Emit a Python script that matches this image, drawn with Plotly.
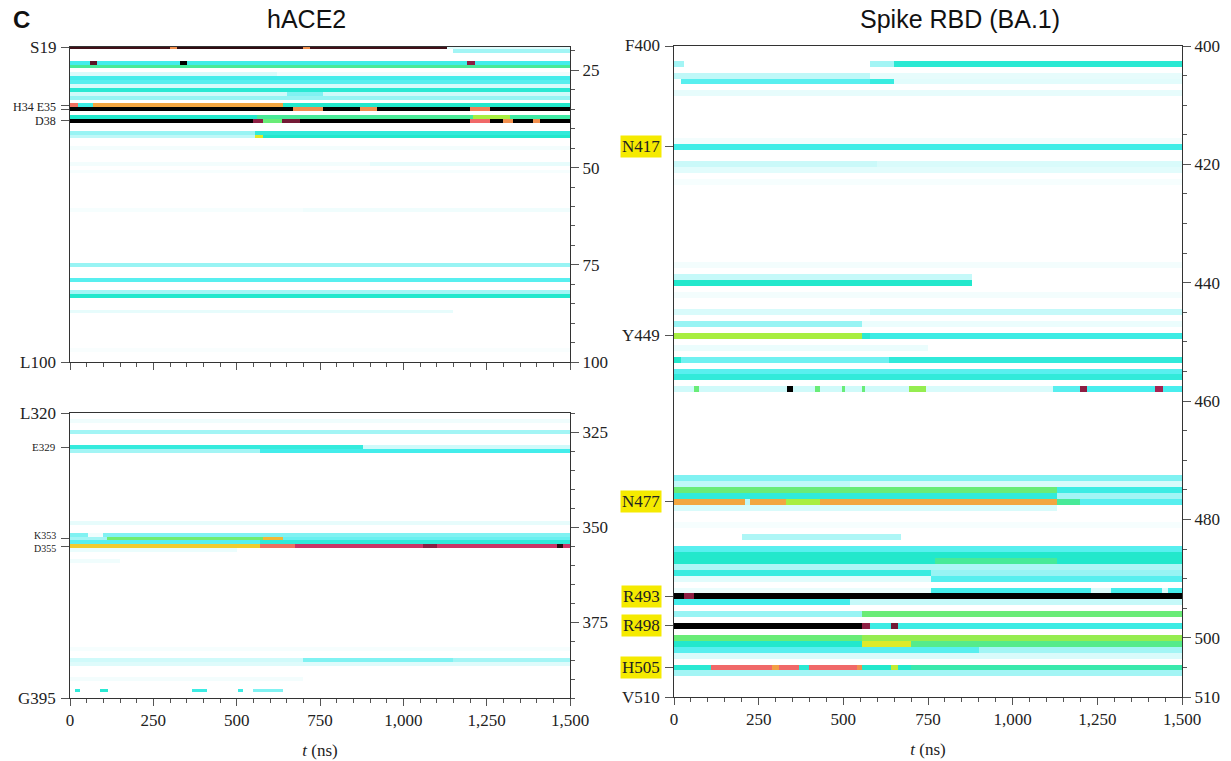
import plotly.graph_objects as go

T_END = 1500          # ns
DT = 5                # ns per heat-map column

# ---------------------------------------------------------------
# Data: contact level (0 = none ... 1 = max) per residue, as time
# segments (t_start, t_end, level)
# ---------------------------------------------------------------
ace2_n_range = (19, 100)
ace2_n_rows = [
    (19, [(0, 300, 0.96), (300, 320, 0.8), (320, 700, 0.97), (700, 720, 0.8), (720, 1130, 0.96), (1130, 1500, 0.08)]),
    (20, [(1150, 1500, 0.2)]),
    (23, [(0, 60, 0.33), (60, 80, 0.95), (80, 330, 0.33), (330, 350, 1.0), (350, 1190, 0.34), (1190, 1215, 0.93), (1215, 1500, 0.33)]),
    (24, [(0, 1500, 0.5)]),
    (26, [(0, 620, 0.1), (620, 1500, 0.05)]),
    (27, [(0, 1500, 0.33)]),
    (28, [(0, 1500, 0.3)]),
    (29, [(0, 1500, 0.1)]),
    (30, [(0, 1500, 0.4)]),
    (31, [(0, 650, 0.12), (650, 760, 0.25), (760, 1500, 0.12)]),
    (32, [(0, 1500, 0.22)]),
    (34, [(0, 25, 0.84), (25, 70, 0.35), (70, 640, 0.77), (640, 1500, 0.42)]),
    (35, [(0, 670, 1.0), (670, 760, 0.8), (760, 870, 1.0), (870, 920, 0.8), (920, 1200, 1.0), (1200, 1260, 0.82), (1260, 1500, 1.0)]),
    (37, [(0, 560, 0.42), (560, 1210, 0.5), (1210, 1320, 0.62), (1320, 1500, 0.48)]),
    (38, [(0, 550, 1.0), (550, 580, 0.93), (580, 635, 0.55), (635, 690, 0.94), (690, 1200, 1.0), (1200, 1260, 0.85),
          (1260, 1300, 1.0), (1300, 1330, 0.8), (1330, 1390, 1.0), (1390, 1410, 0.8), (1410, 1500, 1.0)]),
    (41, [(0, 555, 0.22), (555, 1500, 0.38)]),
    (42, [(0, 555, 0.15), (555, 580, 0.68), (580, 1500, 0.42)]),
    (45, [(0, 1500, 0.04)]),
    (49, [(0, 900, 0.04), (900, 1500, 0.07)]),
    (51, [(0, 1500, 0.03)]),
    (61, [(0, 700, 0.03), (700, 1500, 0.05)]),
    (75, [(0, 1500, 0.22)]),
    (79, [(0, 1500, 0.3)]),
    (82, [(0, 1500, 0.2)]),
    (83, [(0, 1500, 0.42)]),
    (87, [(0, 1150, 0.07)]),
    (97, [(0, 1500, 0.02)]),
]

ace2_c_range = (320, 395)
ace2_c_rows = [
    (322, [(0, 1500, 0.05)]),
    (325, [(0, 1500, 0.2)]),
    (329, [(0, 880, 0.37), (880, 1500, 0.12)]),
    (330, [(0, 570, 0.2), (570, 1500, 0.33)]),
    (349, [(0, 1500, 0.07)]),
    (352, [(0, 55, 0.25), (55, 100, 0.05), (100, 1500, 0.25)]),
    (353, [(0, 110, 0.2), (110, 580, 0.56), (580, 640, 0.75), (640, 1500, 0.28)]),
    (354, [(0, 570, 0.3), (570, 1500, 0.38)]),
    (355, [(0, 570, 0.73), (570, 675, 0.84), (675, 1060, 0.9), (1060, 1100, 0.93), (1100, 1460, 0.9), (1460, 1480, 0.97), (1480, 1500, 0.9)]),
    (356, [(0, 500, 0.06)]),
    (359, [(0, 150, 0.05)]),
    (382, [(0, 1500, 0.03)]),
    (385, [(0, 700, 0.12), (700, 1150, 0.25), (1150, 1500, 0.2)]),
    (386, [(0, 1500, 0.09)]),
    (390, [(0, 700, 0.04)]),
    (393, [(15, 30, 0.38), (90, 115, 0.4), (365, 410, 0.35), (505, 520, 0.35), (550, 640, 0.25)]),
]

spike_range = (400, 510)
spike_rows = [
    (403, [(0, 30, 0.2), (580, 650, 0.2), (650, 1500, 0.4)]),
    (405, [(0, 580, 0.15), (580, 1500, 0.07)]),
    (406, [(20, 580, 0.3), (580, 650, 0.36), (650, 1500, 0.08)]),
    (408, [(0, 1500, 0.07)]),
    (416, [(0, 1500, 0.04)]),
    (417, [(0, 1500, 0.34)]),
    (420, [(0, 600, 0.13), (600, 1500, 0.1)]),
    (421, [(0, 1500, 0.08)]),
    (423, [(0, 1500, 0.03)]),
    (437, [(0, 1500, 0.04)]),
    (439, [(0, 880, 0.14)]),
    (440, [(0, 880, 0.42)]),
    (442, [(0, 1500, 0.04)]),
    (445, [(0, 580, 0.1), (580, 1500, 0.14)]),
    (447, [(0, 555, 0.22), (555, 1500, 0.06)]),
    (449, [(0, 555, 0.62), (555, 580, 0.4), (580, 1500, 0.35)]),
    (451, [(0, 750, 0.06)]),
    (453, [(0, 20, 0.42), (20, 637, 0.27), (637, 1500, 0.38)]),
    (455, [(0, 1500, 0.3)]),
    (456, [(0, 1500, 0.38)]),
    (458, [(0, 60, 0.12), (60, 75, 0.55), (75, 335, 0.12), (335, 350, 1.0), (350, 415, 0.12), (415, 430, 0.55),
           (430, 495, 0.12), (495, 505, 0.55), (505, 555, 0.12), (555, 565, 0.55), (565, 695, 0.12), (695, 745, 0.6),
           (745, 1120, 0.1), (1120, 1200, 0.3), (1200, 1220, 0.93), (1220, 1420, 0.32), (1420, 1445, 0.92), (1445, 1500, 0.32)]),
    (473, [(0, 1500, 0.25)]),
    (474, [(0, 520, 0.15), (520, 1500, 0.1)]),
    (475, [(0, 1130, 0.55), (1130, 1500, 0.35)]),
    (476, [(0, 1130, 0.38), (1130, 1500, 0.2)]),
    (477, [(0, 210, 0.77), (210, 225, 0.15), (225, 330, 0.77), (330, 430, 0.62), (430, 1130, 0.77), (1130, 1200, 0.5), (1200, 1500, 0.3)]),
    (478, [(0, 1130, 0.1)]),
    (481, [(0, 1500, 0.03)]),
    (483, [(200, 670, 0.18)]),
    (485, [(0, 1500, 0.3)]),
    (486, [(0, 1500, 0.42)]),
    (487, [(0, 770, 0.42), (770, 1130, 0.5), (1130, 1500, 0.42)]),
    (488, [(0, 1500, 0.18)]),
    (489, [(0, 760, 0.36), (760, 1500, 0.22)]),
    (490, [(0, 760, 0.08), (760, 1500, 0.3)]),
    (492, [(0, 760, 0.06), (760, 1230, 0.33), (1230, 1290, 0.1), (1290, 1440, 0.33), (1440, 1460, 0.1), (1460, 1500, 0.33)]),
    (493, [(0, 30, 1.0), (30, 60, 0.93), (60, 1500, 1.0)]),
    (494, [(0, 520, 0.33), (520, 1500, 0.14)]),
    (496, [(0, 555, 0.22), (555, 1500, 0.55)]),
    (498, [(0, 555, 1.0), (555, 580, 0.93), (580, 640, 0.35), (640, 660, 0.94), (660, 1500, 0.35)]),
    (500, [(0, 555, 0.55), (555, 1500, 0.6)]),
    (501, [(0, 555, 0.42), (555, 700, 0.68), (700, 1500, 0.52)]),
    (502, [(0, 900, 0.3), (900, 1500, 0.2)]),
    (503, [(0, 1500, 0.1)]),
    (505, [(0, 110, 0.4), (110, 290, 0.85), (290, 310, 0.78), (310, 370, 0.85), (370, 400, 0.4), (400, 540, 0.85),
           (540, 555, 0.8), (555, 640, 0.42), (640, 660, 0.65), (660, 700, 0.42), (700, 1500, 0.47)]),
    (506, [(0, 1500, 0.2)]),
]

# residue labels (left side) and right-axis numbers
ace2_n_labels = [("S19", 19), ("H34 E35", 34.5), ("D38", 38), ("L100", 100)]
ace2_n_ticks = [19, 34, 35, 38, 100]
ace2_c_labels = [("L320", 320), ("E329", 329), ("K353<br>D355", 354), ("G395", 395)]
ace2_c_ticks = [320, 329, 353, 355, 395]
spike_labels = [("F400", 400), ("N417", 417), ("Y449", 449), ("N477", 477), ("R493", 493),
                ("R498", 498), ("H505", 505), ("V510", 510)]
spike_ticks = [400, 417, 449, 477, 493, 498, 505, 510]
spike_right_ticks = [400, 420, 440, 460, 480, 500, 510]
spike_highlight = {"N417", "N477", "R493", "R498", "H505"}
small_labels = {"H34 E35": 12, "D38": 12, "E329": 11, "K353<br>D355": 10}

# ---------------------------------------------------------------
colorscale = [
    [0.00, "#FFFFFF"], [0.05, "#F0FDFD"], [0.12, "#D0FAFA"], [0.22, "#98F4F4"],
    [0.32, "#48EEEE"], [0.42, "#22E8CC"], [0.50, "#48EA98"], [0.56, "#70EC70"],
    [0.62, "#A8EE40"], [0.70, "#F0E820"], [0.77, "#F2A640"], [0.84, "#F07060"],
    [0.87, "#F05878"], [0.91, "#C02860"], [0.96, "#401018"], [1.00, "#000000"],
]


def build_grid(res_range, rows):
    lo, hi = res_range
    ncol = T_END // DT
    xs = [DT / 2 + i * DT for i in range(ncol)]
    ys = list(range(lo, hi + 1))
    z = [[0.0] * ncol for _ in ys]
    for r, segs in rows:
        row = z[r - lo]
        for t0, t1, v in segs:
            for i, t in enumerate(xs):
                if t0 <= t < t1:
                    row[i] = v
    return xs, ys, z


W, H = 1231, 761
SERIF = "Liberation Serif"
SANS = "Liberation Sans"


def fx(p):
    return p / W


def fy(p):
    return 1 - p / H


panels = [
    ("x", "y", "y2", (70, 570, 47, 362), ace2_n_range, ace2_n_rows, ace2_n_ticks, ace2_n_labels, None, False),
    ("x2", "y3", "y4", (70, 570, 413, 698), ace2_c_range, ace2_c_rows, ace2_c_ticks, ace2_c_labels, None, True),
    ("x3", "y5", "y6", (674, 1182, 46, 697), spike_range, spike_rows, spike_ticks, spike_labels, spike_right_ticks, True),
]

fig = go.Figure()
layout = dict(
    width=W, height=H, autosize=False,
    margin=dict(l=0, r=0, t=0, b=0, autoexpand=False),
    paper_bgcolor="white", plot_bgcolor="white",
    showlegend=False,
)
annotations = []

for xa, ya, yr, box, rng, rows, ticks, labels, rticks, showx in panels:
    x0, x1, y0, y1 = box
    xs, ys, z = build_grid(rng, rows)
    fig.add_trace(go.Heatmap(x=xs, y=ys, z=z, xaxis=xa, yaxis=ya, colorscale=colorscale,
                             zmin=0, zmax=1, showscale=False, hoverinfo="skip"))
    fig.add_trace(go.Scatter(x=[0], y=[rng[0]], xaxis=xa, yaxis=yr, mode="markers",
                             marker=dict(opacity=0), hoverinfo="skip"))
    xkey = "xaxis" + xa[1:]
    ykey = "yaxis" + ya[1:]
    yrkey = "yaxis" + yr[1:]
    xaxis = dict(
        domain=[fx(x0), fx(x1)], range=[0, T_END], anchor=ya, automargin=False,
        tickmode="linear", tick0=0, dtick=250, ticks="outside", ticklen=7, tickcolor="#555",
        minor=dict(dtick=50, ticklen=4, ticks="outside", tickcolor="#555"),
        tickformat=",d", showticklabels=showx,
        tickfont=dict(family=SERIF, size=17, color="#222"),
        showgrid=False, zeroline=False, showline=True, linecolor="#333", linewidth=1, mirror=True,
    )
    if showx:
        xaxis["title"] = dict(text="<i>t</i> (ns)", font=dict(family=SERIF, size=17, color="#222"), standoff=14)
    layout[xkey] = xaxis
    layout[ykey] = dict(
        domain=[fy(y1), fy(y0)], range=[rng[1], rng[0]], anchor=xa, automargin=False,
        tickmode="array", tickvals=ticks, ticks="outside", ticklen=8, tickcolor="#555",
        showticklabels=False, showgrid=False, zeroline=False,
        showline=True, linecolor="#333", linewidth=1, mirror=True,
    )
    right = dict(
        overlaying=ya, side="right", anchor=xa, range=[rng[1], rng[0]], automargin=False,
        ticks="outside", ticklen=8, tickcolor="#555",
        minor=dict(tickmode="linear", tick0=0, dtick=5, ticklen=4, ticks="outside", tickcolor="#555"),
        tickfont=dict(family=SERIF, size=17, color="#222"),
        showgrid=False, zeroline=False, showline=False,
    )
    if rticks is None:
        right.update(tickmode="linear", tick0=0, dtick=25)
    else:
        right.update(tickmode="array", tickvals=rticks)
    layout[yrkey] = right

    for text, r in labels:
        size = small_labels.get(text, 17)
        ann = dict(text=text, xref="paper", x=fx(x0 - 12), xanchor="right", align="right",
                   yref=ya, y=r, yanchor="middle", showarrow=False,
                   font=dict(family=SERIF, size=size, color="#222"))
        if text in spike_highlight:
            ann.update(bgcolor="#F5EA00", borderpad=1)
        annotations.append(ann)

annotations += [
    dict(text="hACE2", xref="paper", yref="paper", x=fx(306), y=fy(19), xanchor="center", yanchor="middle",
         showarrow=False, font=dict(family=SANS, size=25, color="#111")),
    dict(text="Spike RBD (BA.1)", xref="paper", yref="paper", x=fx(960), y=fy(19), xanchor="center",
         yanchor="middle", showarrow=False, font=dict(family=SANS, size=25, color="#111")),
    dict(text="<b>C</b>", xref="paper", yref="paper", x=fx(21), y=fy(19), xanchor="center", yanchor="middle",
         showarrow=False, font=dict(family=SANS, size=24, color="#111")),
]
layout["annotations"] = annotations
fig.update_layout(**layout)

fig.write_html("out.html")
